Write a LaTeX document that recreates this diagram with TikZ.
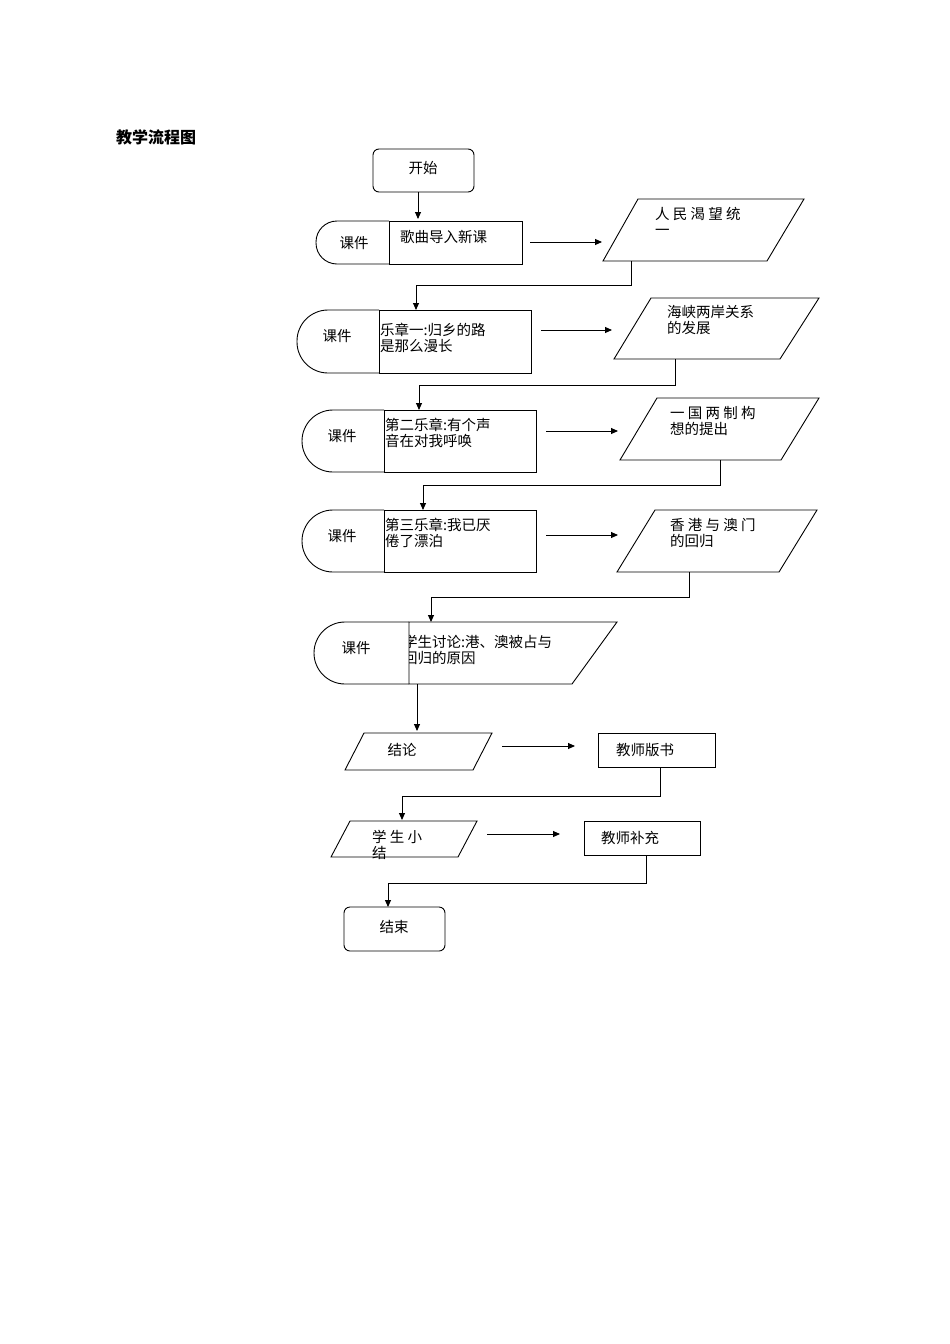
\documentclass[tikz,border=0pt]{standalone}
\usepackage{fontspec}
\setmainfont{Noto Sans CJK SC}
\usetikzlibrary{arrows.meta}
\tikzset{
  ln/.style={draw,line width=0.9pt},
  arr/.style={line width=0.9pt,-{Triangle[length=7pt,width=6pt]}},
  txt/.style={anchor=west,align=left,inner sep=0pt,font=\fontsize{14.5}{16}\selectfont},
  ctr/.style={inner sep=0pt,font=\fontsize{14.5}{16}\selectfont}
}
\begin{document}
\begin{tikzpicture}[x=1pt,y=-1pt]
\useasboundingbox (0,0) rectangle (950,1344);
\node[anchor=west,inner sep=0pt,font=\fontsize{16}{18}\selectfont\bfseries] (title) at (116,137) {教学流程图};
% start
\draw[ln,rounded corners=6] (373,149) rectangle (474,192);
\node[ctr] (start) at (423,168) {开始};
\coordinate (s0) at (418,192); \coordinate (s1) at (418,219);
\draw[arr] (s0) -- (s1);
% row1
\draw[ln,rounded corners=21] (389,221) -- (316,221) -- (316,264) -- (389,264);
\draw[ln] (389,221) rectangle (522,264);
\node[ctr] (k1) at (354,243) {课件};
\node[txt] (t1) at (400,237) {歌曲导入新课};
\coordinate (a1) at (530,242); \coordinate (b1) at (602,242);
\draw[arr] (a1) -- (b1);
\draw[ln] (638,199) -- (804,199) -- (767,261) -- (603,261) -- cycle;
\node[txt,anchor=north west] (p1) at (655,207) {人 民 渴 望 统\\一};
\coordinate (c1) at (631,261); \coordinate (d1) at (416,310);
\draw[arr] (c1) -- (631,285) -| (d1);
% row2
\draw[ln,rounded corners=31] (379,310) -- (297,310) -- (297,373) -- (379,373);
\draw[ln] (379,310) rectangle (531,373);
\node[ctr] (k2) at (337,336) {课件};
\node[txt,anchor=north west] (t2) at (380,323) {乐章一:归乡的路\\是那么漫长};
\coordinate (a2) at (541,330); \coordinate (b2) at (612,330);
\draw[arr] (a2) -- (b2);
\draw[ln] (651,298) -- (819,298) -- (780,359) -- (614,359) -- cycle;
\node[txt,anchor=north west] (p2) at (667,305) {海峡两岸关系\\的发展};
\coordinate (c2) at (675,359); \coordinate (d2) at (419,410);
\draw[arr] (c2) -- (675,385) -| (d2);
% row3
\draw[ln,rounded corners=31] (384,410) -- (302,410) -- (302,472) -- (384,472);
\draw[ln] (384,410) rectangle (536,472);
\node[ctr] (k3) at (342,436) {课件};
\node[txt,anchor=north west] (t3) at (385,418) {第二乐章:有个声\\音在对我呼唤};
\coordinate (a3) at (546,431); \coordinate (b3) at (618,431);
\draw[arr] (a3) -- (b3);
\draw[ln] (657,398) -- (819,398) -- (781,460) -- (620,460) -- cycle;
\node[txt,anchor=north west] (p3) at (670,406) {一 国 两 制 构\\想的提出};
\coordinate (c3) at (720,460); \coordinate (d3) at (423,510);
\draw[arr] (c3) -- (720,485) -| (d3);
% row4
\draw[ln,rounded corners=31] (384,510) -- (302,510) -- (302,572) -- (384,572);
\draw[ln] (384,510) rectangle (536,572);
\node[ctr] (k4) at (342,536) {课件};
\node[txt,anchor=north west] (t4) at (385,518) {第三乐章:我已厌\\倦了漂泊};
\coordinate (a4) at (546,535); \coordinate (b4) at (618,535);
\draw[arr] (a4) -- (b4);
\draw[ln] (655,510) -- (817,510) -- (779,572) -- (617,572) -- cycle;
\node[txt,anchor=north west] (p4) at (670,518) {香 港 与 澳 门\\的回归};
\coordinate (c4) at (689,572); \coordinate (d4) at (431,622);
\draw[arr] (c4) -- (689,597) -| (d4);
% row5
\begin{scope}
\clip (409,600) rectangle (640,700);
\node[txt,anchor=north west] (t5) at (403,635) {学生讨论:港、澳被占与\\回归的原因};
\end{scope}
\draw[ln,rounded corners=31] (409,622) -- (314,622) -- (314,684) -- (409,684);
\draw[ln] (409,622) -- (617,622) -- (572,684) -- (409,684) -- cycle;
\node[ctr] (k5) at (356,648) {课件};
\coordinate (a5) at (417,684); \coordinate (b5) at (417,731);
\draw[arr] (a5) -- (b5);
% conclusion
\draw[ln] (364,733) -- (492,733) -- (473,770) -- (345,770) -- cycle;
\node[ctr] (jl) at (402,750) {结论};
\coordinate (a6) at (502,746); \coordinate (b6) at (575,746);
\draw[arr] (a6) -- (b6);
\draw[ln] (598,733) rectangle (715,767);
\node[ctr] (bs) at (645,750) {教师版书};
\coordinate (c6) at (660,767); \coordinate (d6) at (402,820);
\draw[arr] (c6) -- (660,796) -| (d6);
% summary
\draw[ln] (350,821) -- (477,821) -- (458,857) -- (331,857) -- cycle;
\node[txt,anchor=north west] (xj) at (372,830) {学 生 小\\结};
\coordinate (a7) at (487,834); \coordinate (b7) at (560,834);
\draw[arr] (a7) -- (b7);
\draw[ln] (584,821) rectangle (700,855);
\node[ctr] (bc) at (630,838) {教师补充};
\coordinate (c7) at (646,855); \coordinate (d7) at (388,907);
\draw[arr] (c7) -- (646,883) -| (d7);
% end
\draw[ln,rounded corners=6] (344,907) rectangle (445,951);
\node[ctr] (end) at (394,927) {结束};
\end{tikzpicture}
\end{document}
